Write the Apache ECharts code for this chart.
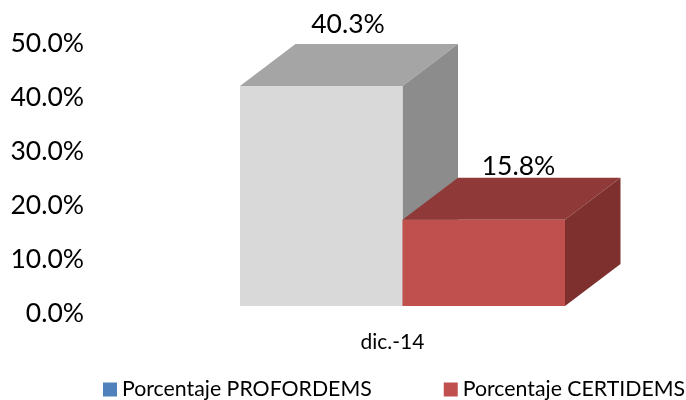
<!DOCTYPE html>
<html>
<head>
<meta charset="utf-8">
<style>html,body{margin:0;padding:0;background:#fff}#c{width:686px;height:400px}</style>
<script src="https://cdn.jsdelivr.net/npm/echarts@6/dist/echarts.min.js"></script>
</head>
<body>
<div id="c"></div>
<script>
const categories = ['dic.-14'];
const seriesNames = ['Porcentaje PROFORDEMS', 'Porcentaje CERTIDEMS'];
const profordems = [40.3];
const certidems = [15.8];
const legendColors = ['#4F81BD', '#C0504D'];
const faces = [
  {front: '#D9D9D9', top: '#A5A5A5', side: '#8C8C8C'},
  {front: '#C0504D', top: '#8F3A38', side: '#7D302E'}
];
const labelOffsets = [[-1, 2], [7, 10]];
const depthX = 55.5, depthY = 42;
const fontName = 'Lato, Carlito, sans-serif';

function render3D(idx) {
  return function (params, api) {
    const x = api.value(0), v = api.value(1);
    const base = api.coord([x, 0]);
    const top = api.coord([x, v]);
    const w = api.size([1, 0])[0] / 2;
    const x0 = base[0] - w + idx * w, x1 = x0 + w;
    const yT = top[1], yB = base[1];
    const f = faces[idx];
    const off = labelOffsets[idx];
    return {
      type: 'group',
      children: [
        {type: 'polygon', shape: {points: [[x0, yT], [x1, yT], [x1 + depthX, yT - depthY], [x0 + depthX, yT - depthY]]}, style: {fill: f.top}},
        {type: 'polygon', shape: {points: [[x1, yT], [x1 + depthX, yT - depthY], [x1 + depthX, yB - depthY], [x1, yB]]}, style: {fill: f.side}},
        {type: 'rect', shape: {x: x0, y: yT, width: w, height: yB - yT}, style: {fill: f.front}},
        {type: 'text', style: {
          text: v.toFixed(1) + '%', x: (x0 + x1) / 2 + depthX / 2 + off[0], y: yT - depthY - 8 + off[1],
          align: 'center', verticalAlign: 'bottom', fill: '#000', font: '26.5px ' + fontName
        }}
      ]
    };
  };
}

const chart = echarts.init(document.getElementById('c'), null, {renderer: 'canvas'});
chart.setOption({
  animation: false,
  backgroundColor: '#fff',
  grid: [
    {left: 90, width: 100, top: 43, height: 270},
    {left: 240, width: 325, top: 33, height: 273}
  ],
  xAxis: [
    {gridIndex: 0, type: 'category', data: categories, show: false},
    {gridIndex: 1, type: 'category', data: categories,
     axisLine: {show: false}, axisTick: {show: false},
     axisLabel: {color: '#000', fontFamily: fontName, fontSize: 21, margin: 26, padding: [0, 20, 0, 0]}}
  ],
  yAxis: [
    {gridIndex: 0, type: 'value', min: 0, max: 50, interval: 10,
     axisLine: {show: false}, axisTick: {show: false}, splitLine: {show: false},
     axisLabel: {color: '#000', fontFamily: fontName, fontSize: 26.5, margin: 6, formatter: v => v.toFixed(1) + '%'}},
    {gridIndex: 1, type: 'value', min: 0, max: 50, interval: 10, show: false, splitLine: {show: false}}
  ],
  legend: {
    left: 103, top: 379, width: 583, padding: 0, itemWidth: 14, itemHeight: 14, itemGap: 72, icon: 'rect',
    textStyle: {color: '#000', fontFamily: fontName, fontSize: 21.3},
    data: seriesNames.map((n, i) => ({name: n, itemStyle: {color: legendColors[i]}}))
  },
  series: [
    {name: seriesNames[0], type: 'custom', xAxisIndex: 1, yAxisIndex: 1, renderItem: render3D(0),
     encode: {x: 0, y: 1}, data: categories.map((c, i) => [i, profordems[i]]), itemStyle: {color: legendColors[0]}},
    {name: seriesNames[1], type: 'custom', xAxisIndex: 1, yAxisIndex: 1, renderItem: render3D(1),
     encode: {x: 0, y: 1}, data: categories.map((c, i) => [i, certidems[i]]), itemStyle: {color: legendColors[1]}}
  ]
});
</script>
</body>
</html>
